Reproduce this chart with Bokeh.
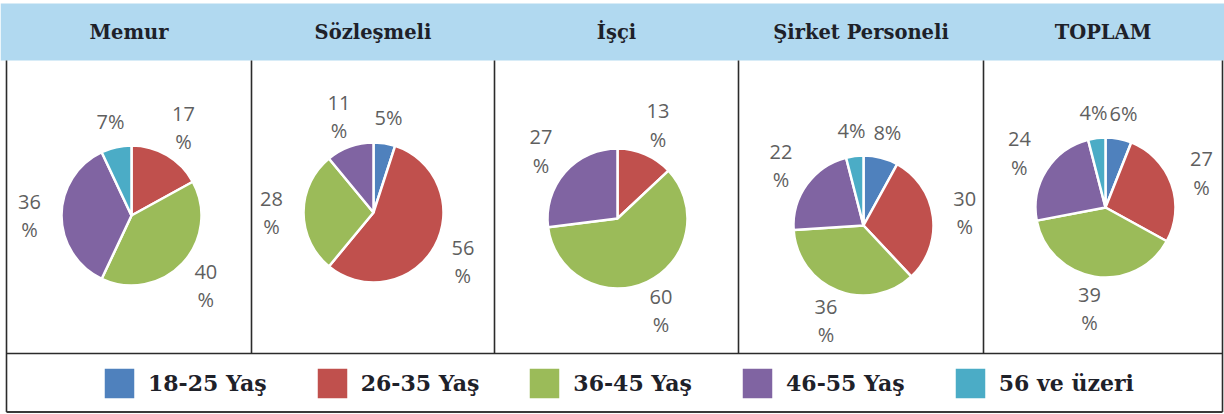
import numpy as np
from bokeh.plotting import figure
from bokeh.models import Range1d, Legend, LegendItem, ColumnDataSource
from bokeh.core.properties import value
from bokeh.embed import file_html
from bokeh.resources import INLINE

# ---------------- data ----------------
panels = ["Memur", "Sözleşmeli", "İşçi", "Şirket Personeli", "TOPLAM"]
groups = ["18-25 Yaş", "26-35 Yaş", "36-45 Yaş", "46-55 Yaş", "56 ve üzeri"]
memur = [0, 17, 40, 36, 7]
sozlesmeli = [5, 56, 28, 11, 0]
isci = [0, 13, 60, 27, 0]
sirket = [8, 30, 36, 22, 4]
toplam = [6, 27, 39, 24, 4]
colors = ["#4F81BD", "#C0504D", "#9BBB59", "#8064A2", "#4BACC6"]

# ---------------- layout (pixel units, y downward) ----------------
W, H = 1224, 414
col_edges = [6, 251, 494, 738, 983, 1222]
header_top, header_bot = 3, 60
grid_bot = 353
frame_bot = 411.5
pie_cx = [131, 373, 617, 863, 1105]
pie_cy = [215, 212, 218, 225, 207]
pie_r = 70
title_mid = 32


def Y(y):
    return H - y


p = figure(width=W, height=H, output_backend="svg", toolbar_location=None,
           x_range=Range1d(0, W), y_range=Range1d(0, H),
           x_axis_type=None, y_axis_type=None, min_border=0,
           background_fill_color="white", border_fill_color="white")
p.grid.visible = False
p.outline_line_color = None

# header band
p.quad(left=[0], right=[W], top=[Y(header_top)], bottom=[Y(header_bot)],
       fill_color="#B1D9F0", line_color=None)

# titles
centers = [(col_edges[i] + col_edges[i + 1]) / 2 for i in range(5)]
p.text(x=centers, y=[Y(title_mid)] * 5, text=panels,
       text_font=value("DejaVu Serif"), text_font_style="bold",
       text_font_size="19.5px", text_color="#1e2129",
       text_align="center", text_baseline="middle")

# table lines
vx0, vy0, vx1, vy1 = [], [], [], []
for i, x in enumerate(col_edges):
    outer = i in (0, len(col_edges) - 1)
    vx0.append(x); vx1.append(x)
    vy0.append(Y(header_bot)); vy1.append(Y(frame_bot if outer else grid_bot))
p.segment(x0=vx0, y0=vy0, x1=vx1, y1=vy1, line_color="#2b2b2b", line_width=1.6)
p.segment(x0=[col_edges[0]], y0=[Y(grid_bot)], x1=[col_edges[-1]], y1=[Y(grid_bot)],
          line_color="#2b2b2b", line_width=1.4)
p.segment(x0=[col_edges[0]], y0=[Y(frame_bot)], x1=[col_edges[-1]], y1=[Y(frame_bot)],
          line_color="#3a3a3a", line_width=2.2)

# pies
vals = np.array([memur, sozlesmeli, isci, sirket, toplam], dtype=float)
items = []
lab_x, lab_y, lab_t = [], [], []
for g in range(len(groups)):
    xs, ys, ss, es = [], [], [], []
    for k in range(len(panels)):
        v = vals[k]
        tot = v.sum()
        if v[g] == 0:
            continue
        c0 = v[:g].sum() / tot
        c1 = v[:g + 1].sum() / tot
        xs.append(pie_cx[k]); ys.append(Y(pie_cy[k]))
        ss.append(np.pi / 2 - 2 * np.pi * c0)
        es.append(np.pi / 2 - 2 * np.pi * c1)
        mid = 2 * np.pi * (c0 + c1) / 2
        iv = int(v[g])
        dist = 96 if iv < 10 else 102
        lab_x.append(pie_cx[k] + dist * np.sin(mid))
        lab_y.append(Y(pie_cy[k] - dist * np.cos(mid)))
        lab_t.append(f"{iv}%" if iv < 10 else f"{iv}\n%")
    src = ColumnDataSource(dict(x=xs, y=ys, s=ss, e=es))
    r = p.wedge(x="x", y="y", radius=pie_r, start_angle="s", end_angle="e",
                direction="clock", fill_color=colors[g], line_color="white",
                line_width=2.5, source=src)
    items.append(LegendItem(label=groups[g], renderers=[r]))

p.text(x=lab_x, y=lab_y, text=lab_t, text_font=value("Open Sans"),
       text_font_size="20px", text_color="#5f5f5f", text_align="center",
       text_baseline="middle", text_line_height=1.05)

legend = Legend(items=items, orientation="horizontal", location=(99, 11),
                glyph_width=40, glyph_height=40, label_standoff=9, spacing=45,
                padding=0, margin=0, border_line_color=None,
                background_fill_alpha=0,
                label_text_font="DejaVu Serif", label_text_font_style="bold",
                label_text_font_size="22px", label_text_color="#1e2129")
p.add_layout(legend)

open("out.html", "w").write(file_html(p, INLINE))
